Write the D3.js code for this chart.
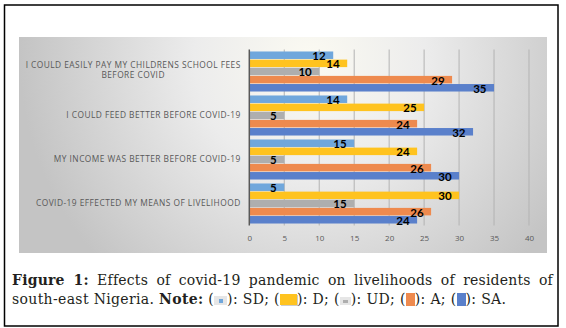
<!DOCTYPE html>
<html>
<head>
<meta charset="utf-8">
<script src="https://cdn.jsdelivr.net/npm/d3@7"></script>
<style>
  body { margin: 0; background: #fff; }
  #wrap { position: relative; width: 566px; height: 328px; }
  svg { position: absolute; left: 0; top: 0; }
  .cap { position: absolute; left: 12px; width: 541px; font-family: "DejaVu Serif", serif; font-size: 14px; letter-spacing: 0.2px; color: #231f20; white-space: nowrap; }
  .cap b { font-weight: bold; }
  #line1 { top: 272px; text-align: justify; text-align-last: justify; }
  #line2 { top: 291px; letter-spacing: 0.34px; }
  .ico { display: inline-block; vertical-align: -1px; }
</style>
</head>
<body>
<div id="wrap">
  <div id="chart"></div>
  <div class="cap" id="line1"><b>Figure 1:</b> Effects of covid-19 pandemic on livelihoods of residents of</div>
  <div class="cap" id="line2"></div>
</div>
<script>
// chart values
var categories = [
    "I COULD EASILY PAY MY CHILDRENS SCHOOL FEES BEFORE COVID",
    "I COULD FEED BETTER BEFORE COVID-19",
    "MY INCOME WAS BETTER BEFORE COVID-19",
    "COVID-19 EFFECTED MY MEANS OF LIVELIHOOD"
];
var seriesNames = ["SD", "D", "UD", "A", "SA"];
var sdValues = [12, 14, 15, 5];
var dValues = [14, 25, 24, 30];
var udValues = [10, 5, 5, 15];
var aValues = [29, 24, 26, 26];
var saValues = [35, 32, 30, 24];
var xTicks = [0, 5, 10, 15, 20, 25, 30, 35, 40];

var seriesValues = [sdValues, dValues, udValues, aValues, saValues];
var seriesColors = ["#70A7DC", "#FFC31F", "#AEAEAE", "#EE8A4E", "#5A80CB"];

var width = 566, height = 328;

var svg = d3.select("#chart")
    .append("svg")
    .attr("width", width)
    .attr("height", height);

// background gradient for the chart box
var defs = svg.append("defs");
var grad = defs.append("radialGradient")
    .attr("id", "bg")
    .attr("gradientUnits", "userSpaceOnUse")
    .attr("cx", 310).attr("cy", 60).attr("r", 290);
grad.append("stop").attr("offset", 0).attr("stop-color", "#fbfaf2");
grad.append("stop").attr("offset", 0.4).attr("stop-color", "#ececec");
grad.append("stop").attr("offset", 1).attr("stop-color", "#c4c4c4");

// outer frame
svg.append("rect")
    .attr("x", 4.5).attr("y", 5)
    .attr("width", 553.5).attr("height", 321)
    .attr("fill", "#fff")
    .attr("stroke", "#000")
    .attr("stroke-width", 1.5);

// chart box
svg.append("rect")
    .attr("x", 19).attr("y", 37)
    .attr("width", 528).attr("height", 216)
    .attr("fill", "url(#bg)");

// scales
var x = d3.scaleLinear().domain([0, 40]).range([249.3, 529]);

var y0 = d3.scaleBand()
    .domain(categories)
    .range([49.5, 225.5])
    .paddingInner(0.09)
    .paddingOuter(0.045);

var y1 = d3.scaleBand()
    .domain(seriesNames)
    .range([0, y0.bandwidth()])
    .paddingInner(0.08);

// gridlines
svg.append("g")
    .selectAll("line")
    .data(xTicks.slice(1))
    .join("line")
    .attr("x1", d => x(d)).attr("x2", d => x(d))
    .attr("y1", 49.5).attr("y2", 225.5)
    .attr("stroke", "#b3b3b3")
    .attr("stroke-width", 1);

// x axis labels (no axis line, like the picture)
var xAxis = svg.append("g")
    .attr("transform", "translate(0,232)")
    .call(d3.axisBottom(x).tickValues(xTicks).tickSize(0).tickPadding(3));
xAxis.select(".domain").remove();
xAxis.selectAll("text")
    .attr("fill", "#595959")
    .style("font-family", "'Open Sans', sans-serif")
    .style("font-size", "8px");

// bars
var groups = svg.append("g")
    .selectAll("g")
    .data(categories)
    .join("g")
    .attr("transform", d => `translate(0,${y0(d)})`);

groups.selectAll("rect")
    .data((d, i) => seriesNames.map((s, j) => ({ s: s, v: seriesValues[j][i], c: seriesColors[j] })))
    .join("rect")
    .attr("x", x(0))
    .attr("y", d => y1(d.s))
    .attr("width", d => x(d.v) - x(0))
    .attr("height", y1.bandwidth())
    .attr("fill", d => d.c);

// value labels
groups.selectAll("text")
    .data((d, i) => seriesNames.map((s, j) => ({ s: s, v: seriesValues[j][i] })))
    .join("text")
    .attr("x", d => x(d.v) - 7.5)
    .attr("y", d => y1(d.s) + y1.bandwidth() / 2 + 0.5)
    .attr("text-anchor", "end")
    .attr("dominant-baseline", "central")
    .attr("fill", "#000")
    .style("font-family", "Lato, sans-serif")
    .style("font-weight", "bold")
    .style("font-size", "11.5px")
    .text(d => d.v);

// y axis line
svg.append("line")
    .attr("x1", x(0)).attr("x2", x(0))
    .attr("y1", 49.5).attr("y2", 225.5)
    .attr("stroke", "#595959")
    .attr("stroke-width", 1.5);

// category labels, wrapped to fit left of the axis; wrapped lines are centred like Excel does
var labelRight = 240.7;
var catLabels = svg.append("g")
    .selectAll("text")
    .data(categories)
    .join("text")
    .attr("text-anchor", "middle")
    .attr("fill", "#595959")
    .style("font-family", "'Open Sans', sans-serif")
    .style("font-size", "8.4px")
    .style("letter-spacing", "0.45px");

catLabels.each(function (d) {
    var t = d3.select(this);
    var words = d.split(" ");
    var lines = [], cur = [], maxW = 0;
    words.forEach(function (w) {
        cur.push(w);
        t.text(cur.join(" "));
        if (textLen(t) > 222 && cur.length > 1) {
            cur.pop();
            lines.push(cur.join(" "));
            cur = [w];
        }
    });
    lines.push(cur.join(" "));
    lines.forEach(function (l) {
        t.text(l);
        maxW = Math.max(maxW, textLen(t));
    });
    t.text(null);
    var cy = y0(d) + y0.bandwidth() / 2;
    var lh = 10.5;
    var top = cy - (lines.length - 1) * lh / 2 - (lines.length > 1 ? 2 : 1);
    lines.forEach(function (l, i) {
        t.append("tspan")
            .attr("x", labelRight - maxW / 2)
            .attr("y", top + i * lh)
            .attr("dominant-baseline", "central")
            .text(l);
    });
});

function textLen(sel) { return sel.node().getComputedTextLength(); }

// caption line 2 with little legend swatches
var icons = {
    SD: '<span class="ico" style="width:13px;height:9px;background:#e6e6e6;position:relative"><span style="position:absolute;left:4.5px;top:2.5px;width:4px;height:4px;background:#70A7DC"></span></span>',
    D: '<span class="ico" style="width:17px;height:11px;background:#FFC31F;box-shadow:1px 1px 0 #ccc"></span>',
    UD: '<span class="ico" style="width:11px;height:8px;background:#e6e6e6;position:relative"><span style="position:absolute;left:3px;top:3px;width:5px;height:3px;background:#AEAEAE"></span></span>',
    A: '<span class="ico" style="width:9px;height:13px;background:#EE8A4E;vertical-align:-2px"></span>',
    SA: '<span class="ico" style="width:9px;height:13px;background:#5A80CB;vertical-align:-2px"></span>'
};
var line2 = "south-east Nigeria. <b>Note:</b> " +
    seriesNames.map((s, i) => "(" + icons[s] + "): " + s + (i < seriesNames.length - 1 ? ";" : ".")).join(" ");
d3.select("#line2").html(line2);
</script>
</body>
</html>
